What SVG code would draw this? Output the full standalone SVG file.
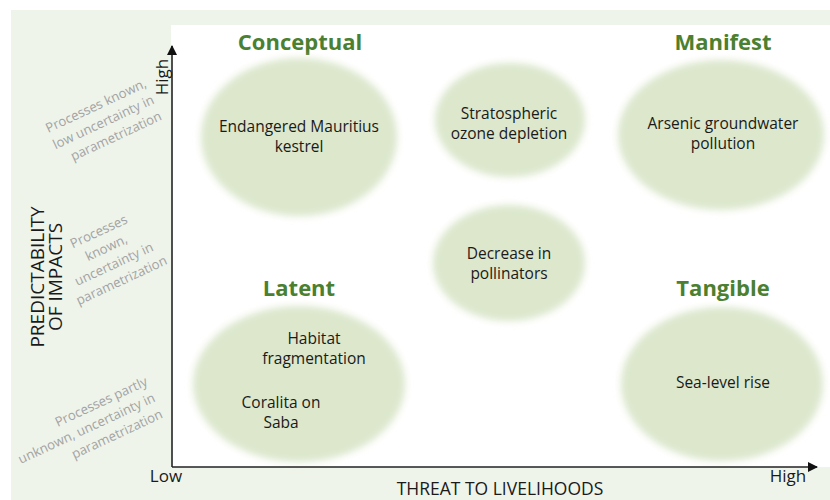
<svg xmlns="http://www.w3.org/2000/svg" width="830" height="500" viewBox="0 0 830 500">
<style>
.bg{fill:#eff4eb}
.plot{fill:#ffffff}
.blob{fill:#dce7cc;filter:url(#soft)}
.t{font-family:"Open Sans","Liberation Sans",sans-serif;font-size:15.5px;fill:#1a1a1a;text-anchor:middle}
.h{font-family:"Open Sans","Liberation Sans",sans-serif;font-size:22px;font-weight:bold;fill:#4a8030;text-anchor:middle}
.g{font-family:"Open Sans","Liberation Sans",sans-serif;font-size:13.2px;fill:#a3a3a3}
.ax{font-family:"Open Sans","Liberation Sans",sans-serif;font-size:17px;fill:#1a1a1a}
.axis{stroke:#222;stroke-width:1.6;fill:none}
</style>
<defs>
<filter id="soft" x="-10%" y="-10%" width="120%" height="120%"><feGaussianBlur stdDeviation="3.5"/></filter>
<marker id="arr" markerWidth="10" markerHeight="10" refX="9" refY="5" orient="auto" markerUnits="userSpaceOnUse" viewBox="0 0 10 10"><path d="M0,0 L10,5 L0,10 z" fill="#111"/></marker>
</defs>
<rect class="bg" x="11" y="10" width="819" height="490"/>
<rect class="plot" x="171" y="25" width="659" height="442"/>

<g id="conceptual-label"><text class="h" x="300" y="50">Conceptual</text></g>
<g id="manifest-label"><text class="h" x="723" y="50">Manifest</text></g>
<g id="latent-label"><text class="h" x="299" y="296">Latent</text></g>
<g id="tangible-label"><text class="h" x="723" y="296">Tangible</text></g>

<g id="kestrel"><ellipse class="blob" cx="299" cy="137" rx="98" ry="79"/>
<text class="t" x="299" y="132">Endangered Mauritius</text><text class="t" x="299" y="152">kestrel</text></g>
<g id="ozone"><ellipse class="blob" cx="510" cy="120" rx="75" ry="57"/>
<text class="t" x="509" y="119">Stratospheric</text><text class="t" x="509" y="139">ozone depletion</text></g>
<g id="arsenic"><ellipse class="blob" cx="721" cy="135" rx="103" ry="75"/>
<text class="t" x="723" y="129">Arsenic groundwater</text><text class="t" x="723" y="149">pollution</text></g>
<g id="pollinators"><ellipse class="blob" cx="509" cy="263" rx="76" ry="58"/>
<text class="t" x="509" y="259">Decrease in</text><text class="t" x="509" y="279">pollinators</text></g>
<g id="latent"><ellipse class="blob" cx="299" cy="384" rx="106" ry="78"/>
<text class="t" x="314" y="344">Habitat</text><text class="t" x="314" y="364">fragmentation</text>
<text class="t" x="281" y="408">Coralita on</text><text class="t" x="281" y="428">Saba</text></g>
<g id="sealevel"><ellipse class="blob" cx="722" cy="384" rx="101" ry="77"/>
<text class="t" x="723" y="388">Sea-level rise</text></g>

<g id="connectors">
<line class="axis" x1="172" y1="467" x2="172" y2="46" marker-end="url(#arr)"/>
<line class="axis" x1="172" y1="467" x2="817" y2="467" marker-end="url(#arr)"/>
</g>

<g id="axis-labels">
<text class="ax" x="166" y="482" text-anchor="middle">Low</text>
<text class="ax" x="788" y="482" text-anchor="middle">High</text>
<text class="ax" x="500" y="495" text-anchor="middle" style="font-size:17.5px">THREAT TO LIVELIHOODS</text>
<text class="ax" transform="translate(168,77) rotate(-90)" text-anchor="middle">High</text>
<g transform="translate(0,277) rotate(-90)" class="ax" text-anchor="middle" style="font-size:19px">
<text x="0" y="44">PREDICTABILITY</text><text x="0" y="62">OF IMPACTS</text></g>
</g>

<g id="predictability-levels" class="g">
<g transform="translate(155,103) rotate(-25)" text-anchor="end">
<text x="0" y="-18">Processes known,</text><text x="0" y="0">low uncertainty in</text><text x="0" y="18">parametrization</text></g>
<g transform="translate(112,260) rotate(-25)" text-anchor="middle">
<text x="0" y="-27">Processes</text><text x="0" y="-9">known,</text><text x="0" y="9">uncertainty in</text><text x="0" y="27">parametrization</text></g>
<g transform="translate(156,401) rotate(-25)" text-anchor="end">
<text x="0" y="-18">Processes partly</text><text x="0" y="0">unknown, uncertainty in</text><text x="0" y="18">parametrization</text></g>
</g>
</svg>
